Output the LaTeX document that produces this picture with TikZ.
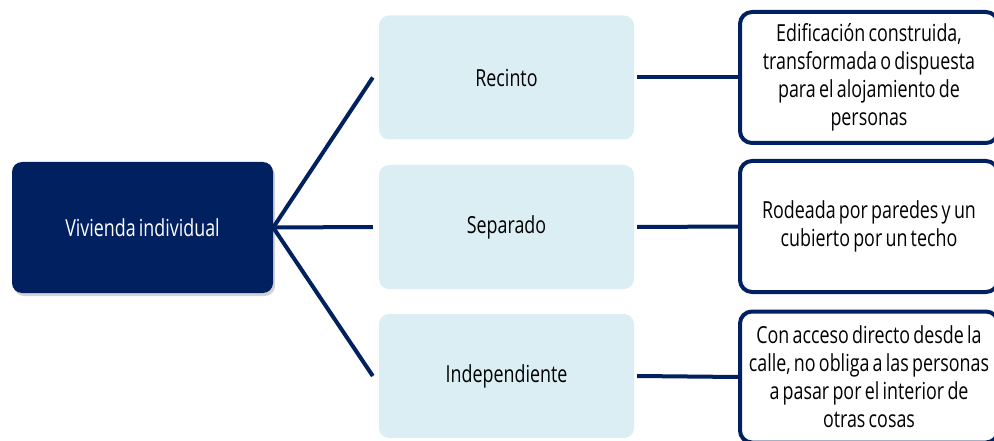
\documentclass[tikz,border=0pt]{standalone}
\usepackage{fontspec}
\setmainfont{Open Sans}[FakeStretch=0.76,WordSpace=0.7]
\usepackage{tikz}
\usetikzlibrary{shadows}

\definecolor{navy}{HTML}{002060}
\definecolor{paleblue}{HTML}{DAEEF3}

\tikzset{
  mainbox/.style={fill=navy, rounded corners=10pt, minimum width=261pt, minimum height=131pt,
    text=white, drop shadow={shadow xshift=2pt, shadow yshift=-3pt, opacity=0.35}},
  typebox/.style={fill=paleblue, rounded corners=10pt, minimum width=255pt, minimum height=124pt},
  defbox/.style={draw=navy, line width=4pt, fill=white, rounded corners=12pt, minimum width=258pt,
    minimum height=131pt, inner xsep=1pt, align=center},
  link/.style={draw=navy, line width=4pt}
}

\begin{document}
\begin{tikzpicture}[x=1pt,y=-1pt,font=\fontsize{23.5}{28}\selectfont]
	\useasboundingbox (0,0) rectangle (994,441);

	\node[mainbox] (vivienda) at (142.5,227.5) {Vivienda individual};

	\node[typebox] (recinto) at (506.5,77.5) {Recinto};
	\node[typebox] (separado) at (506.5,227) {Separado};
	\node[typebox] (indep) at (506.5,376) {Independiente};

	\node[defbox] (defrecinto) at (869,77.5) {Edificación construida,\\transformada o dispuesta\\para el alojamiento de\\personas};
	\node[defbox] (defseparado) at (869,226.5) {Rodeada por paredes y un\\cubierto por un techo};
	\node[defbox] (defindep) at (869,377) {Con acceso directo desde la\\calle, no obliga a las personas\\a pasar por el interior de\\otras cosas};

	% ramas
	\foreach \t in {recinto,separado,indep}
		\draw[link] (vivienda.east) -- ([xshift=-6pt]\t.west);
	\foreach \t/\d in {recinto/defrecinto,separado/defseparado,indep/defindep}
		\draw[link] ([xshift=3pt]\t.east) -- (\d.west);
\end{tikzpicture}
\end{document}
